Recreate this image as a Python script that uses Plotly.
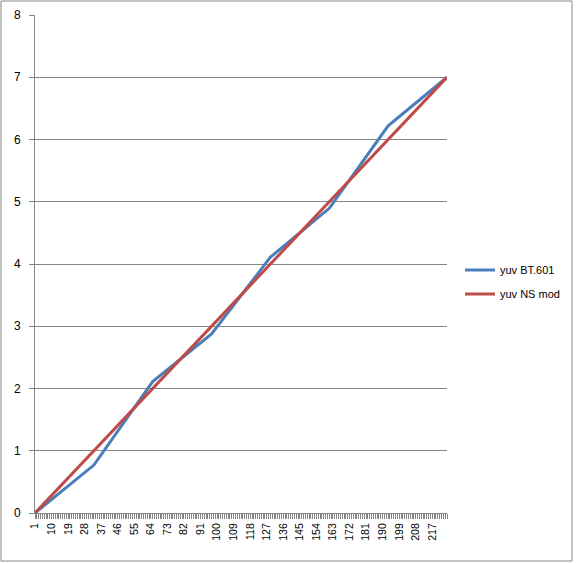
import plotly.graph_objects as go

# category positions (knots) and tick labels
x_knots = [1, 33, 65, 97, 129, 161, 193, 225]
tick_labels = [1, 10, 19, 28, 37, 46, 55, 64, 73, 82, 91, 100, 109, 118, 127,
               136, 145, 154, 163, 172, 181, 190, 199, 208, 217]
yuv_bt601 = [0, 0.77, 2.11, 2.875, 4.11, 4.895, 6.22, 7.0]
yuv_ns_mod = [0, 1, 2, 3, 4, 5, 6, 7]

W, H = 577, 563
L, R, T, B = 35, 130, 15, 50
pw, ph = W - L - R, H - T - B

fig = go.Figure()
fig.add_trace(go.Scatter(x=x_knots, y=yuv_bt601, mode="lines", name="yuv BT.601",
                         legendgroup="a", line=dict(color="#4A7EBB", width=3)))
fig.add_trace(go.Scatter(x=x_knots, y=yuv_ns_mod, mode="lines", name="yuv NS mod",
                         legendgroup="b", line=dict(color="#BE4B48", width=3)))

grey = "#868686"
fig.update_layout(
    width=W, height=H, autosize=False,
    margin=dict(l=L, r=R, t=T, b=B, autoexpand=False),
    paper_bgcolor="white", plot_bgcolor="white",
    font=dict(family="Liberation Sans", size=10, color="black"),
    showlegend=True,
    legend=dict(x=(460 - L) / pw, xanchor="left", y=(513 - 282) / ph, yanchor="middle",
                font=dict(size=11), bgcolor="rgba(0,0,0,0)", tracegroupgap=5,
                itemwidth=30),
    xaxis=dict(type="linear", range=[1, 225], tickmode="array",
               tickvals=tick_labels, ticktext=[str(v) for v in tick_labels],
               tickangle=-90, ticks="outside", ticklen=5, tickcolor=grey,
               showgrid=False, zeroline=False, showline=True, linecolor=grey, linewidth=1,
               tickfont=dict(size=10.5), automargin=False,
               minor=dict(tickmode="linear", tick0=1, dtick=1, ticks="outside",
                          ticklen=5, tickcolor=grey, showgrid=False)),
    yaxis=dict(range=[0, 8], dtick=1, tick0=0, ticks="outside", ticklen=5, tickcolor=grey,
               showgrid=True, gridcolor=grey, gridwidth=1, zeroline=False,
               showline=True, linecolor=grey, linewidth=1, tickfont=dict(size=12),
               ticklabelstandoff=6, automargin=False),
    shapes=[dict(type="rect", xref="paper", yref="paper",
                 x0=(1 - L) / pw, x1=(572 - L) / pw,
                 y0=(H - B - 561) / ph, y1=(H - B - 1) / ph,
                 line=dict(color=grey, width=1), fillcolor="rgba(0,0,0,0)", layer="below")],
)

fig.write_html("out.html", config={"displayModeBar": False},
               post_script="document.body.style.margin='0';document.body.style.overflow='hidden';")
